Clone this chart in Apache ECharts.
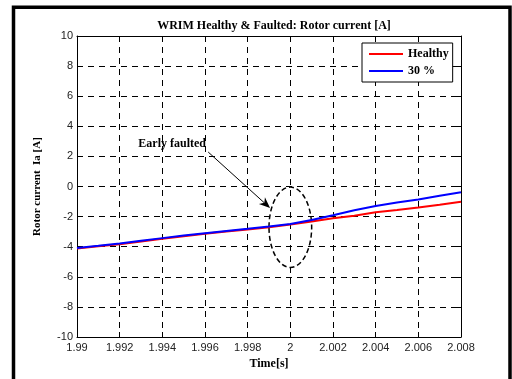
<!DOCTYPE html>
<html>
<head>
<meta charset="utf-8">
<script src="https://cdn.jsdelivr.net/npm/echarts@6/dist/echarts.min.js"></script>
<style>
  html, body { margin: 0; padding: 0; background: #fff; }
  #chart { width: 512px; height: 379px; }
</style>
</head>
<body>
<div id="chart"></div>
<script>
// time axis [s]
var timeData = [1.990, 1.991, 1.992, 1.993, 1.994, 1.995, 1.996, 1.997, 1.998, 1.999,
    2.000, 2.001, 2.002, 2.003, 2.004, 2.005, 2.006, 2.007, 2.008];
// rotor current Ia [A]
var healthyData = [-4.12, -3.97, -3.83, -3.65, -3.47, -3.30, -3.14, -2.99, -2.85, -2.70,
    -2.53, -2.33, -2.11, -1.94, -1.71, -1.56, -1.39, -1.21, -1.02];
var faultData = [-4.08, -3.94, -3.79, -3.61, -3.43, -3.26, -3.10, -2.95, -2.81, -2.66,
    -2.49, -2.22, -1.91, -1.58, -1.29, -1.06, -0.87, -0.62, -0.38];
var xTicks = [1.99, 1.992, 1.994, 1.996, 1.998, 2, 2.002, 2.004, 2.006, 2.008];
var yTicks = [-10, -8, -6, -4, -2, 0, 2, 4, 6, 8, 10];
// annotation (data coords)
var noteText = 'Early faulted';
var notePos = [1.99446, 2.82];
var arrowFrom = [1.99615, 2.29];
var arrowTo = [1.99905, -1.43];
var ellipseCenter = [2.0, -2.71];

var serif = '"Liberation Serif", "Times New Roman", serif';
var sans = '"Liberation Sans", Arial, sans-serif';

var pairs = function (ys) {
    return timeData.map(function (t, i) { return [t, ys[i]]; });
};

var myChart = echarts.init(document.getElementById('chart'), null, { renderer: 'canvas' });

var dashGrid = { show: true, lineStyle: { color: '#000', width: 1, type: [6, 5] } };
var tickFmt = function (v) { return String(+(+v).toFixed(3)); };
var boxLine = { show: true, onZero: false, lineStyle: { color: '#000', width: 1 } };
var inTick = { show: true, inside: true, length: 5, lineStyle: { color: '#000' } };

var option = {
    backgroundColor: '#fff',
    animation: false,
    title: {
        text: 'WRIM Healthy & Faulted: Rotor current [A]',
        left: 269, top: 15, textAlign: 'center',
        textStyle: { fontFamily: serif, fontWeight: 'bold', fontSize: 12, color: '#000' }
    },
    legend: {
        orient: 'vertical',
        left: 362, top: 43,
        padding: [5, 4, 5, 7],
        itemGap: 5,
        icon: 'rect',
        itemWidth: 34, itemHeight: 2,
        borderColor: '#000', borderWidth: 1,
        backgroundColor: '#fff',
        data: ['Healthy', '30 %'],
        textStyle: { fontFamily: serif, fontWeight: 'bold', fontSize: 12, color: '#000', lineHeight: 12 }
    },
    grid: { left: 77, right: 51, top: 36, bottom: 42, containLabel: false },
    xAxis: [{
        type: 'value', min: 1.99, max: 2.008, interval: 0.002,
        name: 'Time[s]', nameLocation: 'middle', nameGap: 20,
        nameTextStyle: { fontFamily: serif, fontWeight: 'bold', fontSize: 12, color: '#000' },
        axisLine: boxLine, axisTick: inTick,
        axisLabel: { formatter: tickFmt, fontFamily: sans, fontSize: 11, color: '#222', margin: 5 },
        splitLine: dashGrid
    }, {
        type: 'value', min: 1.99, max: 2.008, interval: 0.002, position: 'top',
        axisLine: boxLine, axisTick: inTick,
        axisLabel: { show: false }, splitLine: { show: false }
    }],
    yAxis: [{
        type: 'value', min: -10, max: 10, interval: 2,
        name: 'Rotor current  Ia [A]', nameLocation: 'middle', nameGap: 34,
        nameTextStyle: { fontFamily: serif, fontWeight: 'bold', fontSize: 11, color: '#000' },
        axisLine: boxLine, axisTick: inTick,
        axisLabel: { formatter: tickFmt, fontFamily: sans, fontSize: 11, color: '#222', margin: 4 },
        splitLine: dashGrid
    }, {
        type: 'value', min: -10, max: 10, interval: 2, position: 'right',
        axisLine: boxLine, axisTick: inTick,
        axisLabel: { show: false }, splitLine: { show: false }
    }],
    series: [{
        name: 'Healthy', type: 'line', symbol: 'none',
        data: pairs(healthyData),
        itemStyle: { color: '#ff0000' },
        lineStyle: { color: '#ff0000', width: 2 }
    }, {
        name: '30 %', type: 'line', symbol: 'none',
        data: pairs(faultData),
        itemStyle: { color: '#0000ff' },
        lineStyle: { color: '#0000ff', width: 2 }
    }]
};
myChart.setOption(option);

// annotations placed through the axes
var px = function (p) { return myChart.convertToPixel({ gridIndex: 0 }, p); };
var a = px(arrowFrom), b = px(arrowTo), c = px(ellipseCenter), n = px(notePos);
var ang = Math.atan2(b[1] - a[1], b[0] - a[0]);
var hl = 11, hw = 4.5;
var bx = b[0] - hl * Math.cos(ang), by = b[1] - hl * Math.sin(ang);
var mx = b[0] - hl * 0.7 * Math.cos(ang), my = b[1] - hl * 0.7 * Math.sin(ang);
var head = [
    b,
    [bx - hw * Math.sin(ang), by + hw * Math.cos(ang)],
    [mx, my],
    [bx + hw * Math.sin(ang), by - hw * Math.cos(ang)]
];
var unitY = px([2, 0])[1] - px([2, 1])[1];
var unitX = px([2.001, 0])[0] - px([2, 0])[0];

myChart.setOption({
    graphic: [{
        type: 'rect', silent: true,
        shape: { x: 13.5, y: 7.3, width: 496.5, height: 420 },
        style: { fill: 'none', stroke: '#000', lineWidth: 3.5 }
    }, {
        type: 'line', silent: true,
        shape: { x1: a[0], y1: a[1], x2: mx, y2: my },
        style: { stroke: '#000', lineWidth: 1 }
    }, {
        type: 'polygon', silent: true,
        shape: { points: head },
        style: { fill: '#000' }
    }, {
        type: 'ellipse', silent: true,
        shape: { cx: c[0], cy: c[1], rx: unitX * 1.0, ry: unitY * 2.67 },
        style: { fill: 'none', stroke: '#000', lineWidth: 1.5, lineDash: [5, 3] }
    }, {
        type: 'text', silent: true,
        x: n[0], y: n[1],
        style: {
            text: noteText, textAlign: 'center', textVerticalAlign: 'middle',
            font: 'bold 12px ' + serif, fill: '#000'
        }
    }]
});
</script>
</body>
</html>
